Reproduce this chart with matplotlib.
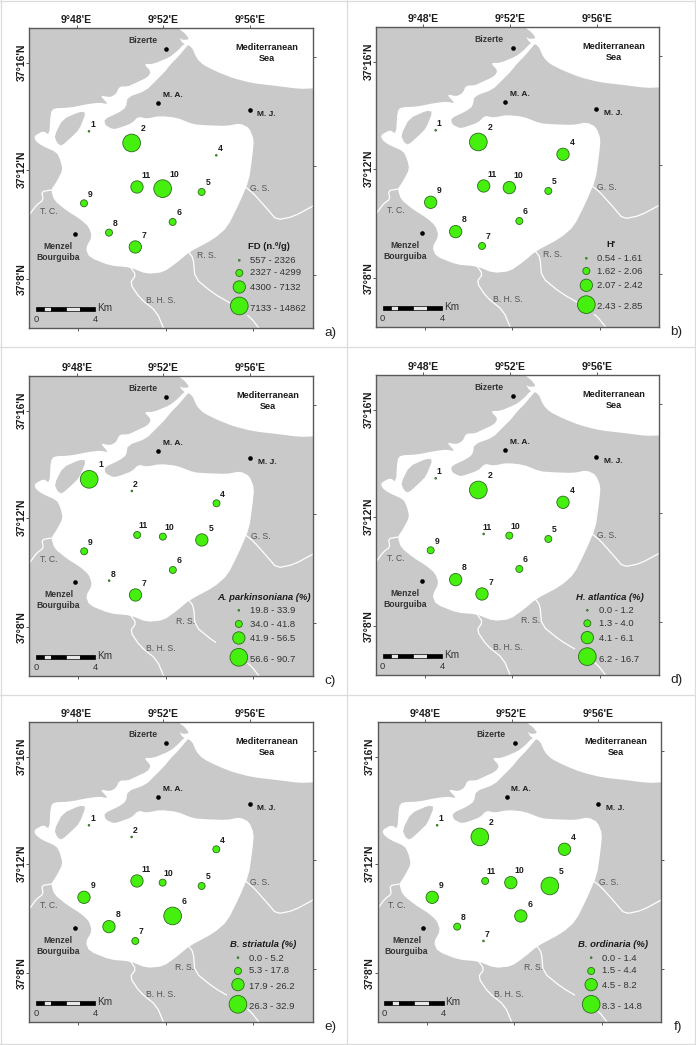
import matplotlib
matplotlib.use("Agg")
import matplotlib.pyplot as plt
from matplotlib.patches import Polygon, Rectangle
from matplotlib.lines import Line2D

plt.rcParams['font.family'] = ['Liberation Sans', 'DejaVu Sans']

W, H = 696, 1045
SCALE = 3.0     # map units per image pixel
MAP_W, MAP_H = 850, 900

# --- base map, in map units of panel a (frame corner at 88, 85)
SEA = [(535,85),(555,100),(568,118),(548,120),(538,113),(548,130),(575,140),(590,175),(610,195),
       (650,215),(700,235),(760,250),(830,258),(900,267),(945,265),(1040,262),(1040,-40),(515,-40)]
WATER = [(570,128),(552,132),(530,155),(508,172),(460,192),(432,192),(453,215),(443,232),(400,252),
         (385,259),(358,260),(348,282),(330,292),(300,286),(325,313),(300,308),(265,312),(210,323),
         (162,325),(152,338),(148,405),(130,393),(103,408),(106,422),(125,437),(170,457),(181,480),
         (188,510),(170,545),(153,570),(163,602),(200,632),(240,657),(266,680),(276,710),(257,745),
         (268,772),(330,797),(390,802),(440,822),(490,817),(532,787),(567,757),(642,717),(682,682),
         (717,612),(747,542),(757,470),(762,420),(748,384),(720,370),(680,378),(620,376),(580,373),
         (530,353),(480,348),(440,356),(415,350),(395,370),(360,383),(340,388),(316,376),(313,358),
         (358,337),(378,322),(383,292),(438,272),(468,242),(493,217),(513,192),(535,170)]
ISLAND = [(163,408),(188,358),(240,335),(258,338),(238,388),(218,408),(185,438),(172,430)]
RIVERS = [[(735,560),(760,580),(800,625),(830,660),(880,650),(945,615)],
          [(565,755),(580,775),(585,835),(640,880),(700,915),(750,950),(785,995)],
          [(390,800),(408,825),(390,850),(420,895),(470,935),(495,995)],
          [(155,570),(125,575),(130,600),(110,615),(90,642)]]
CITIES = [(499,147),(475,310),(749,330),(225,703)]

# --- graticule
LON_LABELS = ["9°48'E", "9°52'E", "9°56'E"]
LAT_LABELS = ["37°16'N", "37°12'N", "37°8'N"]
LON_TOP = [142, 402, 662]
LON_BOTTOM = [147, 409, 672]
LAT_LEFT = [103, 424, 752]
LAT_RIGHT = [87, 412, 740]

# --- stations (position in panel-a map units)
STATIONS = ['1', '2', '4', '5', '6', '7', '8', '9', '10', '11']
ST_X = [267, 395, 649, 605, 518, 406, 327, 252, 488, 411]
ST_Y = [394, 429, 466, 576, 666, 741, 698, 610, 566, 561]

# --- class (0-3) of every station in each panel
CLASS_A = [0, 3, 0, 1, 1, 2, 1, 1, 3, 2]
CLASS_B = [0, 3, 2, 1, 1, 1, 2, 2, 2, 2]
CLASS_C = [3, 0, 1, 2, 1, 2, 0, 1, 1, 1]
CLASS_D = [0, 3, 2, 1, 1, 2, 2, 1, 1, 0]
CLASS_E = [0, 0, 1, 1, 3, 1, 2, 2, 1, 2]
CLASS_F = [0, 3, 2, 3, 2, 0, 1, 2, 2, 1]
CLASS_DIAM = [5, 21, 37, 53]      # map units

# --- legends
RANGES_A = ['557 - 2326', '2327 - 4299', '4300 - 7132', '7133 - 14862']
RANGES_B = ['0.54 - 1.61', '1.62 - 2.06', '2.07 - 2.42', '2.43 - 2.85']
RANGES_C = ['19.8 - 33.9', '34.0 - 41.8', '41.9 - 56.5', '56.6 - 90.7']
RANGES_D = ['0.0 - 1.2', '1.3 - 4.0', '4.1 - 6.1', '6.2 - 16.7']
RANGES_E = ['0.0 - 5.2', '5.3 - 17.8', '17.9 - 26.2', '26.3 - 32.9']
RANGES_F = ['0.0 - 1.4', '1.5 - 4.4', '4.5 - 8.2', '8.3 - 14.8']

PANELS = [
 dict(tag='a)', cls=CLASS_A, rng=RANGES_A, title='FD (n.º/g)', style='normal',
      px=(29.3, 28.3), crop=(0, 0), rs=(620, 768), tc=(808, 741), mx=718, my=[781,819,861,918],
      tx=750, ty=[781,819,864,925], box=(690, 728)),
 dict(tag='b)', cls=CLASS_B, rng=RANGES_B, title="H'", style='normal',
      px=(376.0, 27.3), crop=(84-88, 82-85), rs=(615, 765), tc=(788, 735), mx=715, my=[775,813,856,914],
      tx=748, ty=[775,814,858,921], box=(690, 725)),
 dict(tag='c)', cls=CLASS_C, rng=RANGES_C, title='A. parkinsoniana (%)', style='italic',
      px=(29.5, 376.3), crop=(0, 0), rs=(555, 820), tc=(790, 750), mx=716, my=[787,828,870,928],
      tx=750, ty=[789,829,873,934], box=(648, 738)),
 dict(tag='d)', cls=CLASS_D, rng=RANGES_D, title='H. atlantica (%)', style='italic',
      px=(376.0, 375.3), crop=(84-88, 82-85), rs=(549, 817), tc=(786, 748), mx=718, my=[787,826,869,926],
      tx=752, ty=[789,827,872,934], box=(680, 736)),
 dict(tag='e)', cls=CLASS_E, rng=RANGES_E, title='B. striatula (%)', style='italic',
      px=(29.3, 722.3), crop=(0, 79-85), rs=(553, 814), tc=(788, 747), mx=714, my=[785,825,866,925],
      tx=747, ty=[787,825,871,931], box=(680, 735)),
 dict(tag='f)', cls=CLASS_F, rng=RANGES_F, title='B. ordinaria (%)', style='italic',
      px=(377.5, 722.3), crop=(0, 79-85), rs=(555, 814), tc=(795, 747), mx=729, my=[785,825,866,925],
      tx=761, ty=[787,825,870,931], box=(680, 735)),
]

GRAY = '#c9c9c9'
GREEN = '#46f00e'
EDGE = '#2c6a1c'
INK = '#1c1c1c'
SOFT = '#555555'

fig = plt.figure(figsize=(W/100, H/100), dpi=100, facecolor='white')

# cell rules of the table holding the panels
bg = fig.add_axes([0, 0, 1, 1], frameon=False)
bg.set_xlim(0, W); bg.set_ylim(H, 0); bg.axis('off')
for x in (1, 347, 695):
    bg.add_line(Line2D([x, x], [0, H], color='#dcdcdc', lw=0.9))
for y in (1, 347, 695, 1044):
    bg.add_line(Line2D([0, W], [y, y], color='#dcdcdc', lw=0.9))

def m(pts):
    return [(x-88, y-85) for x, y in pts]

def smooth(pts, closed=True, n=1):
    # corner cutting, only rounds the traced outline
    for _ in range(n):
        out = [] if closed else [pts[0]]
        count = len(pts) if closed else len(pts)-1
        for i in range(count):
            a, b = pts[i], pts[(i+1) % len(pts)]
            out.append((0.8*a[0]+0.2*b[0], 0.8*a[1]+0.2*b[1]))
            out.append((0.2*a[0]+0.8*b[0], 0.2*a[1]+0.8*b[1]))
        if not closed:
            out.append(pts[-1])
        pts = out
    return pts

for p in PANELS:
    x0, y0 = p['px']
    ax = fig.add_axes([x0/W, 1-(y0+MAP_H/SCALE)/H, MAP_W/SCALE/W, MAP_H/SCALE/H])
    ax.set_xlim(0, MAP_W); ax.set_ylim(MAP_H, 0)
    ax.set_facecolor(GRAY)
    for s in ax.spines.values():
        s.set_color('#5a5a5a'); s.set_linewidth(1.0)

    ax.xaxis.tick_top()
    ax.set_xticks(LON_TOP, LON_LABELS, fontsize=7.5, fontweight='bold', color=INK)
    ax.set_yticks(LAT_LEFT, LAT_LABELS, fontsize=7.5, fontweight='bold', color=INK,
                  rotation=90, va='center')
    ax.tick_params(axis='x', length=2.2, width=0.7, color='#5a5a5a', pad=0.5)
    ax.tick_params(axis='y', length=2.2, width=0.7, color='#5a5a5a', pad=-0.5)
    sb = ax.secondary_xaxis('bottom'); sb.set_xticks(LON_BOTTOM, [])
    sb.tick_params(length=2.5, width=0.7, color='#5a5a5a')
    sb.spines['bottom'].set_visible(False)
    sr = ax.secondary_yaxis('right'); sr.set_yticks(LAT_RIGHT, [])
    sr.tick_params(length=2.5, width=0.7, color='#5a5a5a')
    sr.spines['right'].set_visible(False)

    for r in RIVERS:
        xs, ys = zip(*smooth(m(r), closed=False))
        ax.plot(xs, ys, color='white', lw=0.9, zorder=1)
    ax.add_patch(Polygon(smooth(m(SEA)), fc='white', ec='none', zorder=2))
    ax.add_patch(Polygon(smooth(m(WATER)), fc='white', ec='none', zorder=2))
    ax.add_patch(Polygon(smooth(m(ISLAND)), fc=GRAY, ec='none', zorder=3))

    xs, ys = zip(*m(CITIES))
    ax.scatter(xs, ys, s=11, c='black', linewidths=0, zorder=4)

    def T(pos, s, **kw):
        x, y = m([pos])[0]
        kw.setdefault('ha', 'center'); kw.setdefault('va', 'center')
        kw.setdefault('color', INK)
        ax.text(x, y, s, zorder=6, **kw)

    T((802,144), 'Mediterranean', fontsize=6.6, fontweight='bold')
    T((802,177), 'Sea', fontsize=6.6, fontweight='bold')
    T((428,123), 'Bizerte', fontsize=6.2, fontweight='bold', color='#333333')
    T((519,288), 'M. A.', fontsize=6.0, fontweight='bold')
    T((800,344), 'M. J.', fontsize=6.0, fontweight='bold')
    T((175,741), 'Menzel', fontsize=6.2, fontweight='bold', color='#333333')
    T((175,772), 'Bourguiba', fontsize=6.2, fontweight='bold', color='#333333')
    T((146,636), 'T. C.', fontsize=6.2, color=SOFT)
    T((781,565), 'G. S.', fontsize=6.2, color=SOFT)
    T((483,903), 'B. H. S.', fontsize=6.2, color=SOFT)
    rx, ry = p['rs']
    T((rx-p['crop'][0], ry-p['crop'][1]), 'R. S.', fontsize=6.2, color=SOFT)

    # legend background hides the rivers underneath
    cx, cy = p['crop']
    bx, by = p['box']
    ax.add_patch(Rectangle((bx-cx-88, by-cy-85), 938-(bx-cx), 945-(by-cy),
                           fc=GRAY, ec='none', zorder=1.5))
    # stations
    px_, py_ = zip(*m(list(zip(ST_X, ST_Y))))
    diam = [CLASS_DIAM[c] for c in p['cls']]
    sizes = [(d/SCALE*0.72)**2 for d in diam]
    ax.scatter(px_, py_, s=sizes, c=GREEN, edgecolors=EDGE, linewidths=0.6, zorder=5)
    for name, x, y, d in zip(STATIONS, px_, py_, diam):
        r = d/2
        ax.text(x+8+r, y-17-r, name, fontsize=6.2, fontweight='bold', ha='center', va='center',
                color=INK, zorder=6)

    # legend
    T((p['tc'][0]-cx, p['tc'][1]-cy), p['title'], fontsize=6.8, fontweight='bold',
      fontstyle=p['style'])
    lx = [p['mx']-cx-88]*4
    ly = [y-cy-85 for y in p['my']]
    ax.scatter(lx, ly, s=[(d/SCALE*0.72)**2 for d in CLASS_DIAM], c=GREEN, edgecolors=EDGE,
               linewidths=0.6, zorder=5)
    for lab, y in zip(p['rng'], p['ty']):
        T((p['tx']-cx, y-cy), lab, fontsize=6.8, ha='left', color='#333333')

    # scale bar
    edges = [108, 132, 153, 198, 241, 286]
    fills = ['black', '#e8e8e8', 'black', '#e8e8e8', 'black']
    for a, b, f in zip(edges[:-1], edges[1:], fills):
        ax.add_patch(Rectangle((a-88, 922-85), b-a, 12, fc=f, ec='black', lw=0.5, zorder=5))
    T((108,958), '0', fontsize=6.8, color='#333333')
    T((286,958), '4', fontsize=6.8, color='#333333')
    T((315,925), 'Km', fontsize=7.2, color='#333333')

    # panel tag, outside the frame
    ax.text(MAP_W+52, MAP_H+14, p['tag'], fontsize=9.7, ha='center', va='center',
            color='#222222', clip_on=False)

fig.savefig('out.png', dpi=100, facecolor='white')
